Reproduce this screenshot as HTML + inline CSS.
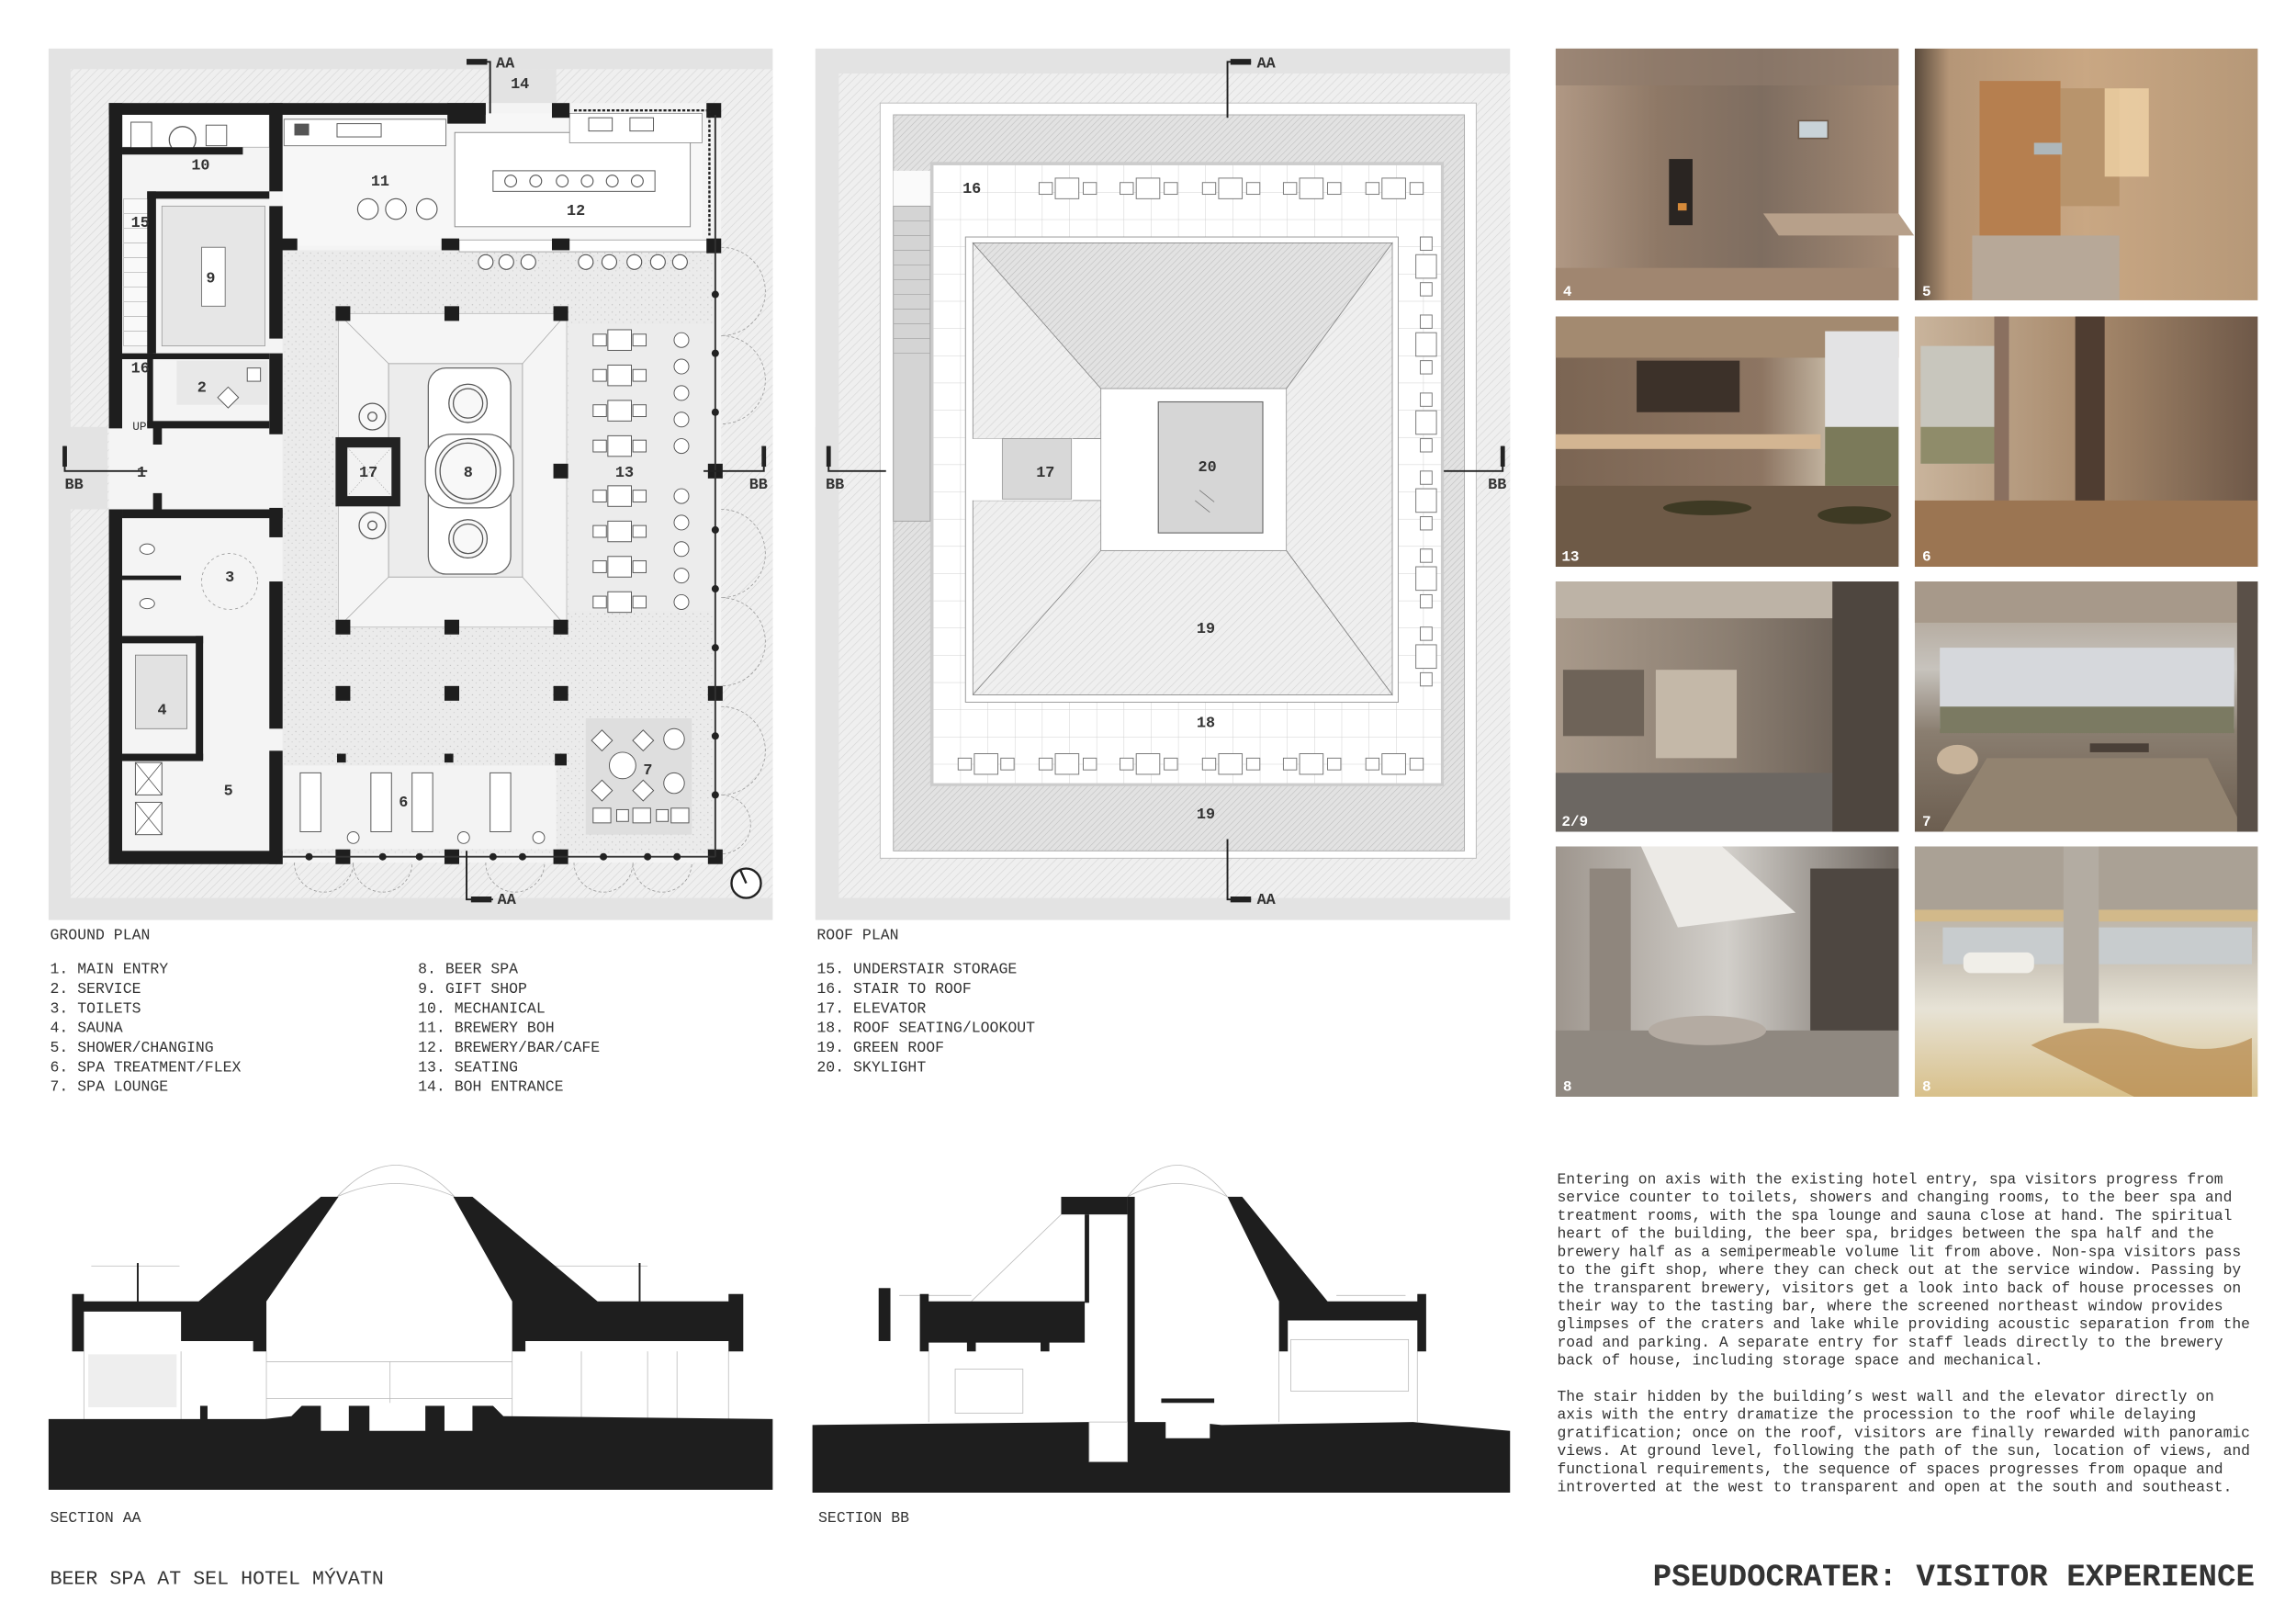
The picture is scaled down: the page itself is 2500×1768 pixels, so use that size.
<!DOCTYPE html>
<html><head><meta charset="utf-8"><style>
html,body{margin:0;padding:0;background:#fff;}
svg{display:block;}
text{font-family:"Liberation Mono",monospace;fill:#333;}
</style></head><body>
<svg width="2500" height="1768" viewBox="0 0 1560 1103.2" preserveAspectRatio="none" xmlns="http://www.w3.org/2000/svg">
<defs>
<pattern id="h" width="4" height="4" patternUnits="userSpaceOnUse" patternTransform="rotate(45)"><rect width="4" height="4" fill="#efefef"/><line x1="0" y1="0" x2="0" y2="4" stroke="#d6d6d6" stroke-width="0.8"/></pattern>
<pattern id="h2" width="3" height="3" patternUnits="userSpaceOnUse" patternTransform="rotate(45)"><rect width="3" height="3" fill="#e2e2e2"/><line x1="0" y1="0" x2="0" y2="3" stroke="#bdbdbd" stroke-width="0.7"/></pattern>
<pattern id="grid" width="18.5" height="18.5" patternUnits="userSpaceOnUse" x="634" y="112"><rect width="18.5" height="18.5" fill="#fff"/><path d="M0 0H18.5M0 0V18.5" stroke="#d0d0d0" stroke-width="0.6" fill="none"/></pattern>
<pattern id="dots" width="5" height="5" patternUnits="userSpaceOnUse"><rect width="5" height="5" fill="#ebebeb"/><circle cx="1" cy="2" r="0.4" fill="#bbb"/><circle cx="3.5" cy="4" r="0.35" fill="#c6c6c6"/></pattern>
<linearGradient id="g4" x1="0" y1="0" x2="1" y2="0"><stop offset="0" stop-color="#b09884"/><stop offset="0.3" stop-color="#8e7866"/><stop offset="0.6" stop-color="#7e6d60"/><stop offset="1" stop-color="#a48a74"/></linearGradient>
<linearGradient id="g5" x1="0" y1="0" x2="1" y2="0"><stop offset="0" stop-color="#5a4a3c"/><stop offset="0.1" stop-color="#b59677"/><stop offset="0.5" stop-color="#c9a783"/><stop offset="1" stop-color="#b69878"/></linearGradient>
<linearGradient id="g13" x1="0" y1="0" x2="1" y2="0"><stop offset="0" stop-color="#7b6553"/><stop offset="0.6" stop-color="#8d7562"/><stop offset="0.8" stop-color="#c4b6a2"/><stop offset="1" stop-color="#d8d4cc"/></linearGradient>
<linearGradient id="g6" x1="0" y1="0" x2="1" y2="0"><stop offset="0" stop-color="#c9b49c"/><stop offset="0.5" stop-color="#a88a6c"/><stop offset="1" stop-color="#6e5848"/></linearGradient>
<linearGradient id="g29" x1="0" y1="0" x2="1" y2="0"><stop offset="0" stop-color="#a8998a"/><stop offset="0.5" stop-color="#8c7f72"/><stop offset="1" stop-color="#5e544c"/></linearGradient>
<linearGradient id="g7" x1="0" y1="0" x2="0" y2="1"><stop offset="0" stop-color="#a89a8a"/><stop offset="0.35" stop-color="#c7c3bd"/><stop offset="0.6" stop-color="#8a7e70"/><stop offset="1" stop-color="#6c5e50"/></linearGradient>
<linearGradient id="g8a" x1="0" y1="0" x2="1" y2="0"><stop offset="0" stop-color="#9e968e"/><stop offset="0.5" stop-color="#d2cfca"/><stop offset="1" stop-color="#6e665f"/></linearGradient>
<linearGradient id="g8b" x1="0" y1="0" x2="0" y2="1"><stop offset="0" stop-color="#aba296"/><stop offset="0.45" stop-color="#c9c2b6"/><stop offset="0.65" stop-color="#e7e3d6"/><stop offset="1" stop-color="#d8c08a"/></linearGradient>
</defs>

<!-- ============ GROUND PLAN ============ -->
<rect x="33" y="33" width="492" height="592" fill="#e3e3e3"/>
<rect x="48" y="47" width="477" height="563" fill="url(#h)"/>
<rect x="33" y="290" width="40" height="56" fill="#e3e3e3"/>
<rect x="333" y="47" width="45" height="24" fill="#e3e3e3"/>
<!-- building interior -->
<rect x="74" y="70" width="416" height="516" fill="#f4f4f4"/>
<rect x="192" y="170" width="294" height="410" fill="url(#dots)"/>
<!-- brewery rooms -->
<rect x="192" y="77" width="285" height="90" fill="#f7f7f7"/>
<rect x="83" y="77" width="100" height="23" fill="#fff" stroke="#aaa" stroke-width="0.5"/>
<circle cx="124" cy="95" r="9" fill="#fff" stroke="#555" stroke-width="0.8"/>
<rect x="89" y="83" width="14" height="18" fill="#fff" stroke="#555" stroke-width="0.6"/>
<rect x="140" y="85" width="14" height="14" fill="#fff" stroke="#555" stroke-width="0.6"/>
<rect x="193" y="81" width="110" height="18" fill="#fff" stroke="#777" stroke-width="0.6"/>
<rect x="229" y="84" width="30" height="9" fill="#fff" stroke="#555" stroke-width="0.6"/>
<rect x="200" y="84" width="10" height="8" fill="#555"/>
<rect x="309" y="90" width="160" height="64" fill="#fff" stroke="#888" stroke-width="0.6"/>
<rect x="387" y="77" width="90" height="20" fill="#fff" stroke="#888" stroke-width="0.5"/>
<rect x="400" y="80" width="16" height="9" fill="#fff" stroke="#555" stroke-width="0.6"/>
<rect x="428" y="80" width="16" height="9" fill="#fff" stroke="#555" stroke-width="0.6"/>
<rect x="335" y="116" width="110" height="14" fill="#fff" stroke="#555" stroke-width="0.6"/>
<g fill="#fff" stroke="#555" stroke-width="0.7">
<circle cx="347" cy="123" r="4"/><circle cx="364" cy="123" r="4"/><circle cx="382" cy="123" r="4"/><circle cx="399" cy="123" r="4"/><circle cx="416" cy="123" r="4"/><circle cx="433" cy="123" r="4"/>
<circle cx="250" cy="142" r="7"/><circle cx="269" cy="142" r="7"/><circle cx="290" cy="142" r="7"/>
<circle cx="330" cy="178" r="5"/><circle cx="344" cy="178" r="5"/><circle cx="359" cy="178" r="5"/><circle cx="398" cy="178" r="5"/><circle cx="414" cy="178" r="5"/><circle cx="431" cy="178" r="5"/><circle cx="447" cy="178" r="5"/><circle cx="462" cy="178" r="5"/>
</g>
<rect x="312" y="163" width="170" height="8" fill="#fff" stroke="#999" stroke-width="0.5"/>
<!-- west spa rooms -->
<rect x="110" y="140" width="70" height="95" fill="#e6e6e6" stroke="#999" stroke-width="0.5"/>
<rect x="137" y="168" width="16" height="40" fill="#fff" stroke="#777" stroke-width="0.6"/>
<rect x="84" y="135" width="18" height="100" fill="#f9f9f9" stroke="#aaa" stroke-width="0.4"/>
<g stroke="#bbb" stroke-width="0.5"><line x1="84" y1="145" x2="102" y2="145"/><line x1="84" y1="155" x2="102" y2="155"/><line x1="84" y1="165" x2="102" y2="165"/><line x1="84" y1="175" x2="102" y2="175"/><line x1="84" y1="185" x2="102" y2="185"/><line x1="84" y1="195" x2="102" y2="195"/><line x1="84" y1="205" x2="102" y2="205"/><line x1="84" y1="215" x2="102" y2="215"/><line x1="84" y1="225" x2="102" y2="225"/></g>
<rect x="120" y="245" width="62" height="30" fill="#e8e8e8"/>
<rect x="150" y="265" width="10" height="10" fill="#fff" stroke="#555" stroke-width="0.6" transform="rotate(45 155 270)"/>
<rect x="168" y="250" width="9" height="9" fill="#fff" stroke="#555" stroke-width="0.6"/>
<rect x="92" y="445" width="35" height="50" fill="#e2e2e2" stroke="#777" stroke-width="0.5"/>
<rect x="92" y="518" width="18" height="22" fill="#fff" stroke="#555" stroke-width="0.6"/><path d="M92 518L110 540M110 518L92 540" stroke="#555" stroke-width="0.5"/>
<rect x="92" y="545" width="18" height="22" fill="#fff" stroke="#555" stroke-width="0.6"/><path d="M92 545L110 567M110 545L92 567" stroke="#555" stroke-width="0.5"/>
<ellipse cx="100" cy="373" rx="5" ry="3.5" fill="#fff" stroke="#555" stroke-width="0.6"/>
<ellipse cx="100" cy="410" rx="5" ry="3.5" fill="#fff" stroke="#555" stroke-width="0.6"/>
<circle cx="156" cy="395" r="19" fill="none" stroke="#999" stroke-width="0.5" stroke-dasharray="2 2"/>
<!-- central pool -->
<rect x="230" y="213" width="155" height="213" fill="#f5f5f5" stroke="#bbb" stroke-width="0.5"/>
<rect x="264" y="247" width="91" height="145" fill="#ececec" stroke="#aaa" stroke-width="0.6"/>
<path d="M230 213L264 247M385 213L355 247M230 426L264 392M385 426L355 392" stroke="#aaa" stroke-width="0.5"/>
<rect x="291" y="250" width="56" height="140" rx="12" fill="#fff" stroke="#666" stroke-width="0.8"/>
<rect x="289" y="295" width="60" height="50" rx="18" fill="#fff" stroke="#666" stroke-width="0.8"/>
<g fill="#f8f8f8" stroke="#555" stroke-width="0.8">
<circle cx="318" cy="274" r="13"/><circle cx="318" cy="274" r="10"/>
<circle cx="318" cy="320" r="22"/><circle cx="318" cy="320" r="19"/>
<circle cx="318" cy="366" r="13"/><circle cx="318" cy="366" r="10"/>
<circle cx="253" cy="283" r="9"/><circle cx="253" cy="283" r="3"/>
<circle cx="253" cy="357" r="9"/><circle cx="253" cy="357" r="3"/>
</g>
<rect x="228" y="297" width="44" height="47" fill="#222"/>
<rect x="236" y="304" width="30" height="33" fill="#f2f2f2"/>
<path d="M236 304L266 337M266 304L236 337" stroke="#aaa" stroke-width="0.4" stroke-dasharray="1 1"/>
<!-- seating 13 -->
<rect x="386" y="220" width="100" height="195" fill="#ececec"/>
<g fill="#fff" stroke="#555" stroke-width="0.6">
<rect x="413" y="224" width="16" height="14"/><rect x="403" y="227" width="9" height="8"/><rect x="430" y="227" width="9" height="8"/>
<rect x="413" y="248" width="16" height="14"/><rect x="403" y="251" width="9" height="8"/><rect x="430" y="251" width="9" height="8"/>
<rect x="413" y="272" width="16" height="14"/><rect x="403" y="275" width="9" height="8"/><rect x="430" y="275" width="9" height="8"/>
<rect x="413" y="296" width="16" height="14"/><rect x="403" y="299" width="9" height="8"/><rect x="430" y="299" width="9" height="8"/>
<rect x="413" y="330" width="16" height="14"/><rect x="403" y="333" width="9" height="8"/><rect x="430" y="333" width="9" height="8"/>
<rect x="413" y="354" width="16" height="14"/><rect x="403" y="357" width="9" height="8"/><rect x="430" y="357" width="9" height="8"/>
<rect x="413" y="378" width="16" height="14"/><rect x="403" y="381" width="9" height="8"/><rect x="430" y="381" width="9" height="8"/>
<rect x="413" y="402" width="16" height="14"/><rect x="403" y="405" width="9" height="8"/><rect x="430" y="405" width="9" height="8"/>
<circle cx="463" cy="231" r="5"/><circle cx="463" cy="249" r="5"/><circle cx="463" cy="267" r="5"/><circle cx="463" cy="285" r="5"/><circle cx="463" cy="303" r="5"/><circle cx="463" cy="337" r="5"/><circle cx="463" cy="355" r="5"/><circle cx="463" cy="373" r="5"/><circle cx="463" cy="391" r="5"/><circle cx="463" cy="409" r="5"/>
</g>
<!-- lounge 7 -->
<rect x="398" y="488" width="72" height="79" fill="#dedede"/>
<g fill="#fff" stroke="#555" stroke-width="0.6">
<circle cx="423" cy="520" r="9"/>
<rect x="404" y="498" width="10" height="10" transform="rotate(45 409 503)"/><rect x="432" y="498" width="10" height="10" transform="rotate(45 437 503)"/>
<rect x="404" y="532" width="10" height="10" transform="rotate(45 409 537)"/><rect x="432" y="532" width="10" height="10" transform="rotate(45 437 537)"/>
<circle cx="458" cy="502" r="7"/><circle cx="458" cy="532" r="7"/>
<rect x="403" y="549" width="12" height="10"/><rect x="419" y="550" width="8" height="8"/><rect x="430" y="549" width="12" height="10"/><rect x="446" y="550" width="8" height="8"/><rect x="456" y="549" width="12" height="10"/>
</g>
<!-- spa 6 -->
<rect x="193" y="520" width="185" height="57" fill="#f3f3f3"/>
<g fill="#fff" stroke="#555" stroke-width="0.6">
<rect x="204" y="525" width="14" height="40"/><rect x="252" y="525" width="14" height="40"/><rect x="280" y="525" width="14" height="40"/><rect x="333" y="525" width="14" height="40"/>
<circle cx="240" cy="569" r="4"/><circle cx="315" cy="569" r="4"/><circle cx="366" cy="569" r="4"/>
</g>
<!-- walls -->
<g fill="#1e1e1e">
<rect x="74" y="70" width="256" height="8"/>
<rect x="304" y="70" width="26" height="14"/>
<rect x="375" y="70" width="12" height="10"/>
<rect x="480" y="70" width="10" height="10"/>
<rect x="74" y="70" width="9" height="221"/>
<rect x="74" y="346" width="9" height="240"/>
<rect x="74" y="578" width="118" height="9"/>
<rect x="183" y="70" width="9" height="60"/>
<rect x="183" y="140" width="9" height="90"/>
<rect x="183" y="240" width="9" height="55"/>
<rect x="183" y="345" width="9" height="20"/>
<rect x="183" y="395" width="9" height="100"/>
<rect x="183" y="510" width="9" height="77"/>
<rect x="83" y="100" width="82" height="5"/>
<rect x="100" y="130" width="83" height="5"/>
<rect x="100" y="130" width="6" height="110"/>
<rect x="83" y="240" width="100" height="4"/>
<rect x="100" y="240" width="4" height="50"/>
<rect x="100" y="286" width="83" height="5"/>
<rect x="104" y="290" width="6" height="12"/>
<rect x="104" y="335" width="6" height="12"/>
<rect x="83" y="346" width="109" height="6"/>
<rect x="83" y="391" width="40" height="3"/>
<rect x="83" y="432" width="55" height="5"/>
<rect x="133" y="432" width="5" height="84"/>
<rect x="83" y="512" width="55" height="5"/>
<rect x="190" y="162" width="12" height="8"/>
<rect x="300" y="162" width="12" height="8"/>
<rect x="375" y="162" width="12" height="8"/>
<rect x="480" y="162" width="10" height="10"/>
<!-- columns -->
<rect x="228" y="208" width="10" height="10"/><rect x="302" y="208" width="10" height="10"/><rect x="376" y="208" width="10" height="10"/>
<rect x="376" y="315" width="10" height="10"/><rect x="481" y="315" width="10" height="10"/>
<rect x="228" y="421" width="10" height="10"/><rect x="302" y="421" width="10" height="10"/><rect x="376" y="421" width="10" height="10"/>
<rect x="228" y="466" width="10" height="10"/><rect x="302" y="466" width="10" height="10"/><rect x="376" y="466" width="10" height="10"/><rect x="481" y="466" width="10" height="10"/>
<rect x="229" y="512" width="6" height="6"/><rect x="302" y="512" width="6" height="6"/><rect x="377" y="512" width="8" height="8"/>
<rect x="228" y="577" width="10" height="10"/><rect x="302" y="577" width="10" height="10"/><rect x="376" y="577" width="10" height="10"/><rect x="481" y="577" width="10" height="10"/>
</g>
<!-- glazing -->
<g stroke="#333" stroke-width="1.2"><line x1="486" y1="78" x2="486" y2="582"/><line x1="192" y1="582" x2="486" y2="582"/></g>
<g fill="#222"><circle cx="486" cy="200" r="2.5"/><circle cx="486" cy="240" r="2.5"/><circle cx="486" cy="280" r="2.5"/><circle cx="486" cy="360" r="2.5"/><circle cx="486" cy="400" r="2.5"/><circle cx="486" cy="440" r="2.5"/><circle cx="486" cy="500" r="2.5"/><circle cx="486" cy="540" r="2.5"/>
<circle cx="210" cy="582" r="2.5"/><circle cx="260" cy="582" r="2.5"/><circle cx="285" cy="582" r="2.5"/><circle cx="335" cy="582" r="2.5"/><circle cx="355" cy="582" r="2.5"/><circle cx="410" cy="582" r="2.5"/><circle cx="440" cy="582" r="2.5"/><circle cx="460" cy="582" r="2.5"/></g>
<g stroke="#222" stroke-width="1.5" stroke-dasharray="2 1.2"><line x1="482" y1="75" x2="482" y2="160"/><line x1="390" y1="75" x2="480" y2="75"/></g>
<g fill="none" stroke="#999" stroke-width="0.5" stroke-dasharray="2 1.5">
<path d="M490 168A30 30 0 0 1 490 228M490 228A30 30 0 0 1 490 288M490 346A30 30 0 0 1 490 406M490 406A30 30 0 0 1 490 466M490 480A30 30 0 0 1 490 540M490 540A20 20 0 0 1 490 580"/>
<path d="M200 586A20 20 0 0 0 240 586M240 586A20 20 0 0 0 280 586M330 586A20 20 0 0 0 370 586M390 586A20 20 0 0 0 430 586M430 586A20 20 0 0 0 470 586"/>
</g>
<!-- section markers -->
<g stroke="#222" fill="none"><path d="M333 77V42H317" stroke-width="1.2"/><path d="M317 42h14" stroke-width="4"/><path d="M317 578V611H335" stroke-width="1.2"/><path d="M320 611h14" stroke-width="4"/>
<path d="M44 303V320H100" stroke-width="1.2"/><path d="M44 303v14" stroke-width="3"/><path d="M519 303V320H478" stroke-width="1.2"/><path d="M519 303v14" stroke-width="3"/></g>
<circle cx="507" cy="600" r="10" fill="#fff" stroke="#222" stroke-width="1.5"/><line x1="507" y1="600" x2="503" y2="591" stroke="#222" stroke-width="1.5"/>
<g font-size="10.5" font-weight="bold" fill="#333">
<text x="337" y="46">AA</text><text x="338" y="614">AA</text><text x="44" y="332">BB</text><text x="509" y="332">BB</text>
<text x="347" y="60">14</text><text x="130" y="115">10</text><text x="252" y="126">11</text><text x="385" y="146">12</text><text x="89" y="154">15</text><text x="140" y="192">9</text><text x="89" y="253">16</text><text x="134" y="266">2</text><text x="93" y="324">1</text><text x="244" y="324">17</text><text x="315" y="324">8</text><text x="418" y="324">13</text><text x="153" y="395">3</text><text x="107" y="485">4</text><text x="152" y="540">5</text><text x="271" y="548">6</text><text x="437" y="526">7</text>
</g>
<text x="90" y="292" font-size="8" fill="#777">UP</text>

<!-- ============ ROOF PLAN ============ -->
<rect x="554" y="33" width="472" height="592" fill="#e3e3e3"/>
<rect x="570" y="50" width="456" height="560" fill="url(#h)"/>
<rect x="554" y="290" width="15" height="56" fill="#e3e3e3"/>
<rect x="598" y="70" width="405" height="513" fill="#fff" stroke="#bbb" stroke-width="0.6"/>
<rect x="607" y="78" width="388" height="500" fill="url(#h2)" stroke="#aaa" stroke-width="0.6"/>
<rect x="632" y="110" width="349" height="424" fill="#ccc"/>
<rect x="634" y="112" width="345" height="420" fill="url(#grid)"/>
<rect x="607" y="116" width="25" height="238" fill="#fafafa"/>
<rect x="607" y="140" width="25" height="214" fill="#d4d4d4" stroke="#999" stroke-width="0.5"/>
<g stroke="#aaa" stroke-width="0.5"><line x1="607" y1="150" x2="632" y2="150"/><line x1="607" y1="160" x2="632" y2="160"/><line x1="607" y1="170" x2="632" y2="170"/><line x1="607" y1="180" x2="632" y2="180"/><line x1="607" y1="190" x2="632" y2="190"/><line x1="607" y1="200" x2="632" y2="200"/><line x1="607" y1="210" x2="632" y2="210"/><line x1="607" y1="220" x2="632" y2="220"/><line x1="607" y1="230" x2="632" y2="230"/><line x1="607" y1="240" x2="632" y2="240"/></g>
<rect x="656" y="161" width="294" height="316" fill="#fff" stroke="#999" stroke-width="0.6"/>
<polygon points="661,165 946,165 874,264 748,264" fill="url(#h2)" stroke="#888" stroke-width="0.5"/>
<polygon points="661,165 748,264 748,298 661,298" fill="url(#h)" stroke="#888" stroke-width="0.5"/>
<polygon points="946,165 946,472 874,374 874,264" fill="url(#h)" stroke="#888" stroke-width="0.5"/>
<polygon points="661,472 946,472 874,374 748,374 748,340 661,340" fill="url(#h)" stroke="#888" stroke-width="0.5"/>
<path d="M661 472L748 374M946 472L874 374" stroke="#888" stroke-width="0.5"/>
<rect x="661" y="298" width="68" height="42" fill="#fff"/>
<rect x="681" y="298" width="47" height="41" fill="#d8d8d8" stroke="#999" stroke-width="0.5"/>
<rect x="748" y="264" width="126" height="110" fill="#fff" stroke="#999" stroke-width="0.5"/>
<rect x="787" y="273" width="71" height="89" fill="#d6d6d6" stroke="#666" stroke-width="0.7"/>
<path d="M812 340l10 8M815 333l10 8" stroke="#777" stroke-width="0.5"/>
<g fill="#fff" stroke="#777" stroke-width="0.6">
<rect x="717" y="121" width="16" height="14"/><rect x="706" y="124" width="9" height="8"/><rect x="736" y="124" width="9" height="8"/>
<rect x="772" y="121" width="16" height="14"/><rect x="761" y="124" width="9" height="8"/><rect x="791" y="124" width="9" height="8"/>
<rect x="828" y="121" width="16" height="14"/><rect x="817" y="124" width="9" height="8"/><rect x="847" y="124" width="9" height="8"/>
<rect x="883" y="121" width="16" height="14"/><rect x="872" y="124" width="9" height="8"/><rect x="902" y="124" width="9" height="8"/>
<rect x="939" y="121" width="16" height="14"/><rect x="928" y="124" width="9" height="8"/><rect x="958" y="124" width="9" height="8"/>
<rect x="662" y="512" width="16" height="14"/><rect x="651" y="515" width="9" height="8"/><rect x="680" y="515" width="9" height="8"/>
<rect x="717" y="512" width="16" height="14"/><rect x="706" y="515" width="9" height="8"/><rect x="736" y="515" width="9" height="8"/>
<rect x="772" y="512" width="16" height="14"/><rect x="761" y="515" width="9" height="8"/><rect x="791" y="515" width="9" height="8"/>
<rect x="828" y="512" width="16" height="14"/><rect x="817" y="515" width="9" height="8"/><rect x="847" y="515" width="9" height="8"/>
<rect x="883" y="512" width="16" height="14"/><rect x="872" y="515" width="9" height="8"/><rect x="902" y="515" width="9" height="8"/>
<rect x="939" y="512" width="16" height="14"/><rect x="928" y="515" width="9" height="8"/><rect x="958" y="515" width="9" height="8"/>
<rect x="962" y="173" width="14" height="16"/><rect x="965" y="161" width="8" height="9"/><rect x="965" y="192" width="8" height="9"/>
<rect x="962" y="226" width="14" height="16"/><rect x="965" y="214" width="8" height="9"/><rect x="965" y="245" width="8" height="9"/>
<rect x="962" y="279" width="14" height="16"/><rect x="965" y="267" width="8" height="9"/><rect x="965" y="298" width="8" height="9"/>
<rect x="962" y="332" width="14" height="16"/><rect x="965" y="320" width="8" height="9"/><rect x="965" y="351" width="8" height="9"/>
<rect x="962" y="385" width="14" height="16"/><rect x="965" y="373" width="8" height="9"/><rect x="965" y="404" width="8" height="9"/>
<rect x="962" y="438" width="14" height="16"/><rect x="965" y="426" width="8" height="9"/><rect x="965" y="457" width="8" height="9"/>
</g>
<g stroke="#222" fill="none"><path d="M834 80V42H850" stroke-width="1.2"/><path d="M836 42h14" stroke-width="4"/><path d="M834 570V611H850" stroke-width="1.2"/><path d="M836 611h14" stroke-width="4"/>
<path d="M563 303V320H602" stroke-width="1.2"/><path d="M563 303v14" stroke-width="3"/><path d="M1021 303V320H981" stroke-width="1.2"/><path d="M1021 303v14" stroke-width="3"/></g>
<g font-size="10.5" font-weight="bold" fill="#333">
<text x="854" y="46">AA</text><text x="854" y="614">AA</text><text x="561" y="332">BB</text><text x="1011" y="332">BB</text>
<text x="654" y="131">16</text><text x="704" y="324">17</text><text x="814" y="320">20</text><text x="813" y="430">19</text><text x="813" y="494">18</text><text x="813" y="556">19</text>
</g>

<!-- ============ LEGENDS ============ -->
<g font-size="10.3" fill="#333">
<text x="34" y="638">GROUND PLAN</text>
<text x="34" y="661">1. MAIN ENTRY</text><text x="34" y="674.5">2. SERVICE</text><text x="34" y="688">3. TOILETS</text><text x="34" y="701">4. SAUNA</text><text x="34" y="714.5">5. SHOWER/CHANGING</text><text x="34" y="728">6. SPA TREATMENT/FLEX</text><text x="34" y="741">7. SPA LOUNGE</text>
<text x="284" y="661">8. BEER SPA</text><text x="284" y="674.5">9. GIFT SHOP</text><text x="284" y="688">10. MECHANICAL</text><text x="284" y="701">11. BREWERY BOH</text><text x="284" y="714.5">12. BREWERY/BAR/CAFE</text><text x="284" y="728">13. SEATING</text><text x="284" y="741">14. BOH ENTRANCE</text>
<text x="555" y="638">ROOF PLAN</text>
<text x="555" y="661">15. UNDERSTAIR STORAGE</text><text x="555" y="674.5">16. STAIR TO ROOF</text><text x="555" y="688">17. ELEVATOR</text><text x="555" y="701">18. ROOF SEATING/LOOKOUT</text><text x="555" y="714.5">19. GREEN ROOF</text><text x="555" y="728">20. SKYLIGHT</text>
<text x="34" y="1034">SECTION AA</text><text x="556" y="1034">SECTION BB</text>
</g>

<!-- ============ SECTION AA ============ -->
<g stroke="#bbb" stroke-width="0.5" fill="none">
<path d="M229 813Q269 770 309 813M229 813Q269 795 309 813"/>
<line x1="57" y1="918" x2="57" y2="966"/><line x1="123" y1="918" x2="123" y2="966"/><line x1="181" y1="918" x2="181" y2="966"/><line x1="348" y1="918" x2="348" y2="966"/><line x1="495" y1="918" x2="495" y2="966"/>
<line x1="181" y1="925" x2="348" y2="925"/><line x1="181" y1="950" x2="348" y2="950"/><line x1="265" y1="925" x2="265" y2="966"/><line x1="395" y1="918" x2="395" y2="966"/><line x1="440" y1="918" x2="440" y2="966"/><line x1="460" y1="918" x2="460" y2="966"/>
<line x1="62" y1="860" x2="122" y2="860"/><line x1="360" y1="860" x2="440" y2="860"/>
</g>
<rect x="60" y="920" width="60" height="36" fill="#eee"/>
<g fill="#1e1e1e">
<polygon points="49,879 57,879 57,884 135,884 218,813 230,813 181,884 181,918 172,918 172,911 123,911 123,891 57,891 57,918 49,918"/>
<polygon points="308,813 321,813 406,884 495,884 495,879 505,879 505,918 495,918 495,911 357,911 357,918 348,918 348,884"/>
<rect x="93" y="858" width="1.2" height="27"/><rect x="434" y="858" width="1.2" height="27"/>
<polygon points="33,964 180,964 198,962 205,955 335,955 342,962 525,964 525,1012 33,1012"/>
<rect x="136" y="955" width="5" height="10"/>
</g>
<g fill="#fff"><rect x="218" y="955" width="19" height="17"/><rect x="251" y="953" width="38" height="19"/><rect x="302" y="955" width="19" height="17"/></g>

<!-- ============ SECTION BB ============ -->
<g stroke="#bbb" stroke-width="0.5" fill="none">
<path d="M766 813Q800 770 834 813M766 813Q800 795 834 813"/>
<line x1="721" y1="825" x2="660" y2="884"/>
<line x1="631" y1="918" x2="631" y2="966"/><line x1="869" y1="918" x2="869" y2="966"/><line x1="963" y1="918" x2="963" y2="966"/>
<rect x="649" y="930" width="46" height="30"/><rect x="877" y="910" width="80" height="35"/>
<line x1="611" y1="880" x2="660" y2="880"/><line x1="908" y1="880" x2="955" y2="880"/>
</g>
<g fill="#1e1e1e">
<rect x="597" y="875" width="8" height="36"/>
<polygon points="625,879 631,879 631,884 737,884 737,912 713,912 713,918 707,918 707,912 663,912 663,918 657,918 657,912 631,912 631,918 625,918"/>
<rect x="721" y="813" width="45" height="12"/>
<rect x="737" y="825" width="3" height="60"/>
<rect x="766" y="813" width="5" height="180"/>
<polygon points="834,813 844,813 902,884 963,884 963,879 969,879 969,918 963,918 963,897 875,897 875,918 869,918 869,884"/>
<polygon points="552,968 740,966 740,993 766,993 766,966 810,966 830,968 960,966 1026,972 1026,1014 552,1014"/>
</g>
<rect x="740" y="966" width="26" height="27" fill="#fff" stroke="#bbb" stroke-width="0.5"/>
<rect x="792" y="952" width="30" height="25" fill="#fff"/>
<rect x="789" y="950" width="36" height="3" fill="#1e1e1e"/>

<!-- ============ PHOTOS ============ -->
<g>
<rect x="1057" y="33" width="233" height="171" fill="url(#g4)"/>
<rect x="1057" y="33" width="233" height="25" fill="#8f7c6d" opacity="0.6"/>
<rect x="1057" y="182" width="233" height="22" fill="#a08670"/>
<rect x="1134" y="108" width="16" height="45" fill="#2a2522"/>
<rect x="1140" y="138" width="6" height="5" fill="#d68a3a"/>
<rect x="1222" y="82" width="20" height="12" fill="#c9d3d8" stroke="#6d5a4a"/>
<rect x="1198" y="145" width="92" height="15" fill="#b7a08a" transform="skewX(35)" transform-origin="1198 145"/>
<rect x="1301" y="33" width="233" height="171" fill="url(#g5)"/>
<rect x="1345" y="55" width="55" height="120" fill="#b67f4f"/>
<rect x="1400" y="60" width="40" height="80" fill="#b8946c"/>
<rect x="1382" y="97" width="19" height="8" fill="#aeb7ba"/>
<rect x="1340" y="160" width="100" height="44" fill="#b7a898"/>
<rect x="1430" y="60" width="30" height="60" fill="#f0d3a8" opacity="0.8"/>
<rect x="1057" y="215" width="233" height="170" fill="url(#g13)"/>
<rect x="1057" y="215" width="233" height="28" fill="#a38a70"/>
<rect x="1112" y="245" width="70" height="35" fill="#3c3129"/>
<rect x="1240" y="225" width="50" height="90" fill="#e3e3e4"/>
<rect x="1240" y="290" width="50" height="40" fill="#7b7a5a"/>
<rect x="1057" y="295" width="180" height="10" fill="#d3b592"/>
<rect x="1057" y="330" width="233" height="55" fill="#6e5a47"/>
<ellipse cx="1160" cy="345" rx="30" ry="5" fill="#3e3a24"/><ellipse cx="1260" cy="350" rx="25" ry="6" fill="#3e3a24"/>
<rect x="1301" y="215" width="233" height="170" fill="url(#g6)"/>
<rect x="1305" y="235" width="55" height="80" fill="#c8c6bd"/>
<rect x="1305" y="290" width="55" height="25" fill="#8f8c6a"/>
<rect x="1355" y="215" width="10" height="170" fill="#8a7060"/>
<rect x="1410" y="215" width="20" height="170" fill="#4f3d31"/>
<rect x="1301" y="340" width="233" height="45" fill="#9b7552"/>
<rect x="1057" y="395" width="233" height="170" fill="url(#g29)"/>
<rect x="1057" y="395" width="233" height="25" fill="#bdb3a6"/>
<rect x="1062" y="455" width="55" height="45" fill="#6e6358"/>
<rect x="1125" y="455" width="55" height="60" fill="#c4b8a8"/>
<rect x="1057" y="525" width="233" height="40" fill="#6c6762"/>
<rect x="1245" y="395" width="45" height="170" fill="#4e463f"/>
<rect x="1301" y="395" width="233" height="170" fill="url(#g7)"/>
<rect x="1301" y="395" width="233" height="28" fill="#a7998a"/>
<rect x="1318" y="440" width="200" height="55" fill="#d6d8dc"/>
<rect x="1318" y="480" width="200" height="18" fill="#7b7a62"/>
<polygon points="1320,565 1350,515 1500,515 1525,565" fill="#928370"/>
<ellipse cx="1330" cy="516" rx="14" ry="10" fill="#c7b39a"/>
<rect x="1420" y="505" width="40" height="6" fill="#4a4038"/>
<rect x="1520" y="395" width="14" height="170" fill="#5a5048"/>
<rect x="1057" y="575" width="233" height="170" fill="url(#g8a)"/>
<polygon points="1115,575 1170,575 1220,620 1140,630" fill="#eceae6"/>
<rect x="1080" y="590" width="28" height="155" fill="#8f867d"/>
<rect x="1230" y="590" width="60" height="155" fill="#4e4741"/>
<rect x="1057" y="700" width="233" height="45" fill="#8f8880"/>
<ellipse cx="1160" cy="700" rx="40" ry="10" fill="#b4aba2"/>
<rect x="1301" y="575" width="233" height="170" fill="url(#g8b)"/>
<rect x="1301" y="575" width="233" height="45" fill="#aaa195"/>
<rect x="1301" y="618" width="233" height="8" fill="#d2b98a"/>
<rect x="1320" y="630" width="210" height="25" fill="#c8ccce"/>
<rect x="1402" y="575" width="24" height="120" fill="#b3aca2"/>
<rect x="1334" y="647" width="48" height="14" rx="5" fill="#f0eee8"/>
<path d="M1380 710q40-20 80 -5t70 0v40h-80z" fill="#b88c52" opacity="0.75"/>
</g>
<g font-size="10" font-weight="bold" fill="#fff">
<text x="1062" y="201" style="fill:#fff">4</text><text x="1306" y="201" style="fill:#fff">5</text>
<text x="1061" y="381" style="fill:#fff">13</text><text x="1306" y="381" style="fill:#fff">6</text>
<text x="1061" y="561" style="fill:#fff">2/9</text><text x="1306" y="561" style="fill:#fff">7</text>
<text x="1062" y="741" style="fill:#fff">8</text><text x="1306" y="741" style="fill:#fff">8</text>
</g>

<!-- ============ TEXT ============ -->
<g font-size="10.2" fill="#444">
<text x="1058" y="804">Entering on axis with the existing hotel entry, spa visitors progress from</text>
<text x="1058" y="816.3">service counter to toilets, showers and changing rooms, to the beer spa and</text>
<text x="1058" y="828.6">treatment rooms, with the spa lounge and sauna close at hand. The spiritual</text>
<text x="1058" y="840.9">heart of the building, the beer spa, bridges between the spa half and the</text>
<text x="1058" y="853.2">brewery half as a semipermeable volume lit from above. Non-spa visitors pass</text>
<text x="1058" y="865.5">to the gift shop, where they can check out at the service window. Passing by</text>
<text x="1058" y="877.8">the transparent brewery, visitors get a look into back of house processes on</text>
<text x="1058" y="890.1">their way to the tasting bar, where the screened northeast window provides</text>
<text x="1058" y="902.4">glimpses of the craters and lake while providing acoustic separation from the</text>
<text x="1058" y="914.7">road and parking. A separate entry for staff leads directly to the brewery</text>
<text x="1058" y="927">back of house, including storage space and mechanical.</text>
<text x="1058" y="951.6">The stair hidden by the building’s west wall and the elevator directly on</text>
<text x="1058" y="963.9">axis with the entry dramatize the procession to the roof while delaying</text>
<text x="1058" y="976.2">gratification; once on the roof, visitors are finally rewarded with panoramic</text>
<text x="1058" y="988.5">views. At ground level, following the path of the sun, location of views, and</text>
<text x="1058" y="1000.8">functional requirements, the sequence of spaces progresses from opaque and</text>
<text x="1058" y="1013.1">introverted at the west to transparent and open at the south and southeast.</text>
</g>
<text x="34" y="1076" font-size="13.5" fill="#333">BEER SPA AT SEL HOTEL MÝVATN</text>
<text x="1123" y="1077" font-size="21.3" font-weight="bold" fill="#2a2a2a">PSEUDOCRATER: VISITOR EXPERIENCE</text>
</svg>
</body></html>
